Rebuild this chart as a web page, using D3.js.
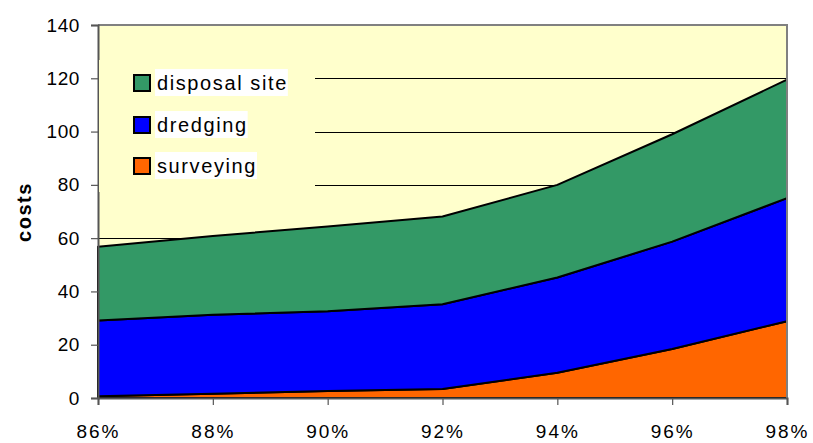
<!DOCTYPE html>
<html>
<head>
<meta charset="utf-8">
<script src="https://cdn.jsdelivr.net/npm/d3@7"></script>
<style>
  html, body { margin: 0; padding: 0; background: #fff; }
  svg { display: block; font-family: "Liberation Sans", Arial, sans-serif; }
</style>
</head>
<body>
<svg id="chart" width="813" height="443"></svg>
<script>
const categories = ["86%", "88%", "90%", "92%", "94%", "96%", "98%"];
const surveying = [0.7, 1.6, 2.6, 3.4, 9.5, 18.4, 28.8];
const dredging = [28.4, 29.6, 30.0, 31.8, 35.7, 40.3, 46.2];
const disposalSite = [27.7, 29.6, 31.8, 32.9, 34.8, 40.3, 44.5];
const yTicks = [0, 20, 40, 60, 80, 100, 120, 140];
const seriesNames = ["surveying", "dredging", "disposal site"];
const seriesColors = ["#FF6600", "#0000FF", "#339966"];
const legendOrder = ["disposal site", "dredging", "surveying"];

(function () {
const svg = d3.select("#chart");
const pL = 98, pR = 787, pT = 25, pB = 398;

const x = d3.scalePoint().domain(categories).range([pL, pR]);
const y = d3.scaleLinear().domain([0, 140]).range([pB, pT]);

const rows = categories.map((c, i) => ({
  cat: c,
  "surveying": surveying[i],
  "dredging": dredging[i],
  "disposal site": disposalSite[i]
}));
const layers = d3.stack().keys(seriesNames)(rows);

// plot background
svg.append("rect").attr("x", pL).attr("y", pT)
  .attr("width", pR - pL).attr("height", pB - pT)
  .attr("fill", "#FFFFCC");

// gridlines
svg.append("g").selectAll("line").data(yTicks.filter(t => t > 0 && t < 140)).join("line")
  .attr("x1", pL).attr("x2", pR)
  .attr("y1", d => Math.round(y(d)) + 0.5).attr("y2", d => Math.round(y(d)) + 0.5)
  .attr("stroke", "#000").attr("stroke-width", 1);

// areas
const area = d3.area()
  .x(d => x(d.data.cat))
  .y0(d => y(d[0]))
  .y1(d => y(d[1]));
svg.append("g").selectAll("path").data(layers).join("path")
  .attr("d", area)
  .attr("fill", (d, i) => seriesColors[i])
  .attr("stroke", "#000").attr("stroke-width", 2)
  .attr("stroke-linejoin", "round");

// plot border (top/right)
svg.append("path")
  .attr("d", `M${pL},${pT}H${pR}V${pB}`)
  .attr("fill", "none").attr("stroke", "#808080").attr("stroke-width", 2);

// y axis
const yAxis = d3.axisLeft(y).tickValues(yTicks).tickSize(7).tickPadding(11);
const gy = svg.append("g").attr("transform", `translate(${pL},0)`).call(yAxis);
gy.select(".domain").attr("stroke", "#555").attr("stroke-width", 2);
gy.selectAll(".tick line").attr("stroke", "#555").attr("stroke-width", 1.2);
gy.selectAll(".tick text").attr("font-size", 19).attr("fill", "#000")
  .attr("font-family", "'Liberation Sans', Arial, sans-serif")
  .style("letter-spacing", "0.6px");

// x axis
const xAxis = d3.axisBottom(x).tickSize(7).tickPadding(0);
const gx = svg.append("g").attr("transform", `translate(0,${pB})`).call(xAxis);
gx.select(".domain").attr("stroke", "#555").attr("stroke-width", 2);
gx.selectAll(".tick line").attr("stroke", "#555").attr("stroke-width", 1.2);
gx.selectAll(".tick text").attr("font-size", 19).attr("fill", "#000")
  .attr("font-family", "'Liberation Sans', Arial, sans-serif")
  .attr("dy", null).attr("y", 40)
  .style("letter-spacing", "2px");

// y axis title
svg.append("text")
  .attr("transform", "translate(31,212) rotate(-90)")
  .attr("text-anchor", "middle")
  .attr("font-size", 20).attr("font-weight", "bold")
  .style("letter-spacing", "1.5px")
  .text("costs");

// legend
const lg = svg.append("g");
lg.append("rect").attr("x", pL + 1).attr("y", 60)
  .attr("width", 315 - pL - 1).attr("height", 132)
  .attr("fill", "#FFFFCC");
const rowY = [83, 125, 166];
legendOrder.forEach((name, i) => {
  const cy = rowY[i];
  const ci = seriesNames.indexOf(name);
  const t = lg.append("text")
    .attr("x", 157).attr("y", cy + 7)
    .attr("font-size", 20)
    .style("letter-spacing", "1.6px")
    .text(name);
  const bb = t.node().getBBox();
  lg.insert("rect", "text")
    .attr("x", 155).attr("y", cy - 14)
    .attr("width", bb.width + 2).attr("height", 27)
    .attr("fill", "#fff");
  lg.append("rect")
    .attr("x", 134).attr("y", cy - 8)
    .attr("width", 16).attr("height", 16)
    .attr("fill", seriesColors[ci])
    .attr("stroke", "#000").attr("stroke-width", 2);
});
})();
</script>
</body>
</html>
